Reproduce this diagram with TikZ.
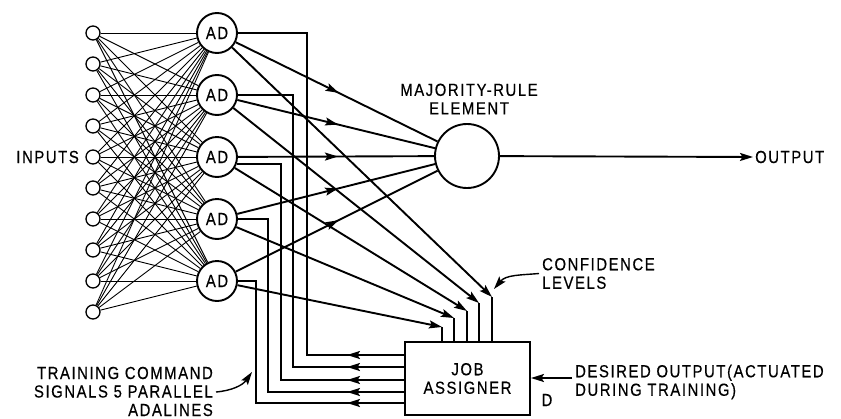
\documentclass[tikz,border=0pt]{standalone}
\usepackage{fontspec}
\setmainfont{Liberation Sans}[LetterSpace=9, FakeStretch=0.85, FakeBold=0.4]
\usetikzlibrary{arrows.meta,decorations.markings}
\begin{document}
\begin{tikzpicture}[x=1pt,y=-1pt,
  lbl/.style={font=\fontsize{17.5}{18.5}\selectfont, inner sep=0pt},
  inp/.style={circle, draw, line width=1.3pt, minimum size=14pt, inner sep=0pt},
  adn/.style={circle, draw, line width=1.9pt, minimum size=40pt, inner sep=0pt, font=\fontsize{17.5}{18}\selectfont},
  wire/.style={line width=1.9pt},
  thinwire/.style={line width=0.9pt},
  tip/.style={-{Stealth[length=13pt,width=8pt,inset=2.5pt]}},
  midarrow/.style={postaction={decorate}, decoration={markings, mark=at position #1 with {\arrow{Stealth[length=13pt,width=8pt,inset=2.5pt]}}}},
]
\useasboundingbox (0,0) rectangle (841,418);

% inputs
\foreach \k in {1,...,10} \node[inp] (i\k) at (93,{33+31*(\k-1)}) {};
\node[lbl, anchor=east] (inlab) at (79,157) {INPUTS};

% adalines
\foreach \k/\y in {1/33,2/95,3/157,4/219,5/281} \node[adn] (a\k) at (217,\y) {AD};

\foreach \k in {1,...,10} \foreach \j in {1,...,5} \draw[thinwire] (i\k) -- (a\j);

% majority element
\node[circle, draw, wire, minimum size=64pt, inner sep=0pt] (m) at (467,156) {};
\node[lbl, align=center] (mlab) at (469,99) {MAJORITY-RULE\\ELEMENT};
\foreach \j in {1,...,5} \draw[wire, midarrow=0.51] (a\j) -- (m);

\node[lbl, anchor=west] (out) at (755,157) {OUTPUT};
\draw[wire, tip, shorten >=2pt] (m) -- (out.west);

% job assigner
\node[draw, wire, minimum width=125pt, minimum height=73pt, lbl, align=center] (job) at (467.5,378.5) {JOB\\ASSIGNER};

% confidence levels
\coordinate (c1) at (492,297);
\coordinate (c2) at (479,303);
\coordinate (c3) at (467,311);
\coordinate (c4) at (454,318);
\coordinate (c5) at (442,327);
\foreach \j in {1,...,5} {
  \draw[wire, tip] (a\j) -- (c\j);
  \draw[wire] (c\j) -- (c\j |- job.north);
}
\node[lbl, anchor=west, align=left] (conf) at (542,273.5) {CONFIDENCE\\LEVELS};
\draw[line width=1.4pt, tip] ([xshift=-3pt]conf.west) to[out=185,in=50] (494,289);

% training command lines
\draw[wire] (a1.east) -| (307,355) -- (job.west |- 0,355);
\draw[wire] (a2.east) -| (293,367) -- (job.west |- 0,367);
\draw[wire] (a3.-20) -| (281,380) -- (job.west |- 0,380);
\draw[wire] (a4.east) -| (268,392) -- (job.west |- 0,392);
\draw[wire] (a5.east) -| (256,403) -- (job.west |- 0,403);
\foreach \y in {355,367,380,392,403} \draw[wire, tip] (job.west |- 0,\y) -- (347,\y);

\node[lbl, anchor=east, align=right] (train) at (213,391.5) {TRAINING COMMAND\\SIGNALS 5 PARALLEL\\ADALINES};
\draw[line width=1.4pt, tip] (216,392) to[out=5,in=235] (252,372);

% desired output
\node[lbl, anchor=west, align=left] (des) at (575,382) {DESIRED OUTPUT(ACTUATED\\DURING TRAINING)};
\coordinate (dstart) at (572,378);
\draw[wire, tip] (dstart) -- (job.east |- dstart);
\node[lbl] (dl) at (547,400) {D};
\end{tikzpicture}
\end{document}
